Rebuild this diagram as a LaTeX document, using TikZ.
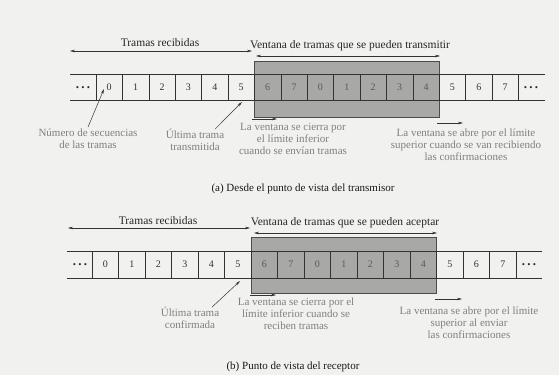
\documentclass[tikz,border=0pt]{standalone}
\usepackage{fontspec}
\setmainfont{Liberation Serif}
\usetikzlibrary{arrows.meta}
\definecolor{bgc}{HTML}{F1F1EF}
\definecolor{winfill}{HTML}{A8A8A6}
\newcommand{\threedots}{.\hspace{2.2pt}.\hspace{2.2pt}.}
\begin{document}
\begin{tikzpicture}[x=1pt,y=-1pt,
 cell/.style={draw=black!80, line width=0.6pt, minimum width=26.4pt, minimum height=26pt, inner sep=0pt, outer sep=0pt, font=\fontsize{10}{12}\selectfont, text=black!80},
 wincell/.style={cell, text=black!65},
 win/.style={fill=winfill, draw=black!70, line width=0.6pt, inner sep=0pt, outer sep=0pt},
 strip/.style={draw=black!80, line width=0.6pt},
 dots/.style={font=\fontsize{13}{13}\selectfont\bfseries, text=black!85, inner sep=0pt},
 dim/.style={{Stealth[length=5pt,width=2.6pt]}-{Stealth[length=5pt,width=2.6pt]}, line width=0.5pt, draw=black!80},
 ann/.style={-{Stealth[length=5pt,width=2.6pt]}, line width=0.5pt, draw=black!80},
 lbl/.style={font=\fontsize{11.5}{13}\selectfont, text=black!85, inner sep=0pt},
 note/.style={font=\fontsize{11}{11.8}\selectfont, text=black!50, align=center, inner sep=0pt},
 captxt/.style={font=\fontsize{11}{12}\selectfont, text=black!90, inner sep=0pt}]
\fill[bgc] (0,0) rectangle (559,375);
\useasboundingbox (0,0) rectangle (559,375);

% ---------------- (a) ----------------
\node[win, minimum width=184.8pt, minimum height=56pt] (wa) at (346.8,89) {};
\foreach \n [count=\i from 0] in {0,1,2,3,4,5,6,7,0,1,2,3,4,5,6,7} {
  \ifnum\i>5 \ifnum\i<13
    \node[wincell] (a\i) at ({109.2+26.4*\i},87) {\n};
  \else
    \node[cell] (a\i) at ({109.2+26.4*\i},87) {\n};
  \fi\else
    \node[cell] (a\i) at ({109.2+26.4*\i},87) {\n};
  \fi
}
\coordinate (aLt) at (70,74); \coordinate (aLb) at (70,100);
\coordinate (aRt) at (545,74); \coordinate (aRb) at (545,100);
\draw[strip] (aLt) -- (a0.north west) (aLb) -- (a0.south west);
\draw[strip] (a15.north east) -- (aRt) (a15.south east) -- (aRb);
\node[dots] (adl) at (83,87.5) {\threedots};
\node[dots] (adr) at (531,87.5) {\threedots};

\node[lbl] (atr) at (160,43) {Tramas recibidas};
\coordinate (atrL) at (70,51); \coordinate (atrR) at (252,51);
\draw[dim] (atrL) -- (atrR);
\node[lbl] (avt) at (350,46) {Ventana de tramas que se pueden transmitir};
\coordinate (avtL) at (256,56); \coordinate (avtR) at (440,56);
\draw[dim] (avtL) -- (avtR);

\node[note] (anum) at (88,139) {Número de secuencias\\de las tramas};
\coordinate (anumT) at (104,89);
\draw[ann] (anum.north) ++(0,-2) -- (anumT);
\node[note] (ault) at (195,140) {Última trama\\transmitida};
\coordinate (aultT) at (242,102);
\draw[ann] ([xshift=20pt]ault.north) -- (aultT);
\node[note] (acie) at (293,139) {La ventana se cierra por\\el límite inferior\\cuando se envían tramas};
\coordinate (acieL) at (252,119); \coordinate (acieR) at (277,119);
\draw[ann] (acieL) -- (acieR);
\node[note] (aabr) at (466,145) {La ventana se abre por el límite\\superior cuando se van recibiendo\\las confirmaciones};
\coordinate (aabrL) at (437,123); \coordinate (aabrR) at (463,123);
\draw[ann] (aabrL) -- (aabrR);
\node[captxt] (acap) at (303,189) {(a) Desde el punto de vista del transmisor};

% ---------------- (b) ----------------
\node[win, minimum width=185.5pt, minimum height=56pt] (wb) at (343.75,265) {};
\foreach \n [count=\i from 0] in {0,1,2,3,4,5,6,7,0,1,2,3,4,5,6,7} {
  \ifnum\i>5 \ifnum\i<13
    \node[wincell, minimum width=26.5pt, minimum height=27pt] (b\i) at ({105.25+26.5*\i},264.5) {\n};
  \else
    \node[cell, minimum width=26.5pt, minimum height=27pt] (b\i) at ({105.25+26.5*\i},264.5) {\n};
  \fi\else
    \node[cell, minimum width=26.5pt, minimum height=27pt] (b\i) at ({105.25+26.5*\i},264.5) {\n};
  \fi
}
\coordinate (bLt) at (67,251); \coordinate (bLb) at (67,278);
\coordinate (bRt) at (542,251); \coordinate (bRb) at (542,278);
\draw[strip] (bLt) -- (b0.north west) (bLb) -- (b0.south west);
\draw[strip] (b15.north east) -- (bRt) (b15.south east) -- (bRb);
\node[dots] (bdl) at (80,265) {\threedots};
\node[dots] (bdr) at (529,265) {\threedots};

\node[lbl] (btr) at (158,221) {Tramas recibidas};
\coordinate (btrL) at (68,228); \coordinate (btrR) at (250,228);
\draw[dim] (btrL) -- (btrR);
\node[lbl] (bvt) at (345,223) {Ventana de tramas que se pueden aceptar};
\coordinate (bvtL) at (254,233); \coordinate (bvtR) at (437,233);
\draw[dim] (bvtL) -- (bvtR);

\node[note] (bult) at (190,318) {Última trama\\confirmada};
\coordinate (bultT) at (240,281);
\draw[ann] ([xshift=22pt]bult.north) -- (bultT);
\node[note] (bcie) at (296,314) {La ventana se cierra por el\\límite inferior cuando se\\reciben tramas};
\coordinate (bcieL) at (250,295); \coordinate (bcieR) at (276,295);
\draw[ann] (bcieL) -- (bcieR);
\node[note] (babr) at (469,323) {La ventana se abre por el límite\\superior al enviar\\las confirmaciones};
\coordinate (babrL) at (435,299); \coordinate (babrR) at (462,299);
\draw[ann] (babrL) -- (babrR);
\node[captxt] (bcap) at (293,367) {(b) Punto de vista del receptor};
\end{tikzpicture}
\end{document}
